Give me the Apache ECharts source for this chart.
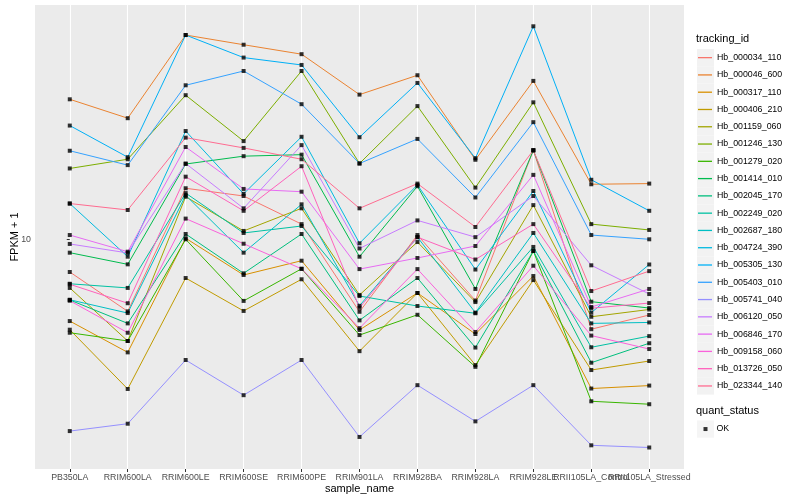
<!DOCTYPE html>
<html>
<head>
<meta charset="utf-8">
<script src="https://cdn.jsdelivr.net/npm/echarts@6/dist/echarts.min.js"></script>
<style>html,body{margin:0;padding:0;background:#fff}#c{width:800px;height:500px}</style>
</head>
<body>
<div id="c"></div>
<script>
// ---- data ----
const sampleNames = ['PB350LA','RRIM600LA','RRIM600LE','RRIM600SE','RRIM600PE','RRIM901LA','RRIM928BA','RRIM928LA','RRIM928LE','RRII105LA_Control','RRII105LA_Stressed'];
const trackingIds = ['Hb_000034_110','Hb_000046_600','Hb_000317_110','Hb_000406_210','Hb_001159_060','Hb_001246_130','Hb_001279_020','Hb_001414_010','Hb_002045_170','Hb_002249_020','Hb_002687_180','Hb_004724_390','Hb_005305_130','Hb_005403_010','Hb_005741_040','Hb_006120_050','Hb_006846_170','Hb_009158_060','Hb_013726_050','Hb_023344_140'];
const yTickValues = [10];
const quantStatus = ['OK'];

const v_000034_110 = [7.40, 5.15, 16.0, 14.9, 11.5, 5.13, 10.4, 5.69, 22.7, 4.37, 4.98];
const v_000046_600 = [36.3, 30.5, 65.6, 60.0, 55.0, 37.9, 45.3, 20.8, 43.0, 16.6, 16.7];
const v_000317_110 = [4.71, 3.53, 10.1, 7.20, 8.21, 4.34, 6.10, 4.18, 7.13, 2.53, 2.60];
const v_000406_210 = [4.35, 2.52, 7.00, 5.17, 6.92, 3.57, 6.10, 3.14, 6.87, 3.00, 3.26];
const v_001159_060 = [6.39, 3.92, 14.8, 10.8, 13.3, 5.99, 9.75, 5.61, 13.7, 4.90, 5.24];
const v_001246_130 = [19.2, 20.9, 37.7, 24.7, 47.1, 20.1, 34.1, 16.1, 35.3, 11.5, 10.9];
const v_001279_020 = [4.23, 3.92, 10.0, 5.67, 7.62, 4.14, 4.99, 3.09, 8.98, 2.25, 2.19];
const v_001414_010 = [8.84, 7.94, 20.0, 21.5, 21.8, 8.52, 16.3, 6.33, 22.7, 5.63, 5.31];
const v_002045_170 = [5.72, 4.61, 10.5, 7.31, 10.5, 4.74, 7.00, 3.69, 8.98, 3.21, 3.84];
const v_002249_020 = [6.64, 6.39, 15.3, 10.6, 11.3, 5.93, 5.41, 5.06, 9.32, 3.70, 4.10];
const v_002687_180 = [5.73, 5.07, 15.0, 8.84, 13.8, 5.42, 10.2, 5.09, 10.6, 4.61, 4.65];
const v_004724_390 = [13.9, 8.52, 27.1, 15.2, 25.7, 9.64, 16.5, 7.57, 15.6, 5.09, 7.93];
const v_005305_130 = [28.5, 21.3, 65.6, 53.3, 49.8, 25.6, 42.2, 21.1, 71.1, 17.3, 13.0];
const v_005403_010 = [22.6, 19.8, 41.3, 47.1, 34.7, 20.1, 25.2, 14.7, 29.4, 10.4, 10.0];
const v_005741_040 = [1.71, 1.83, 3.29, 2.38, 3.29, 1.62, 2.61, 1.87, 2.61, 1.50, 1.47];
const v_006120_050 = [9.58, 8.82, 20.1, 13.3, 23.8, 9.19, 11.9, 10.2, 14.9, 7.87, 6.04];
const v_006846_170 = [10.4, 8.92, 23.4, 15.9, 15.5, 7.60, 8.42, 9.40, 18.1, 5.36, 6.33];
const v_009158_060 = [5.68, 4.23, 12.1, 9.60, 7.62, 4.41, 7.60, 4.26, 7.84, 4.12, 3.64];
const v_013726_050 = [6.61, 5.55, 17.8, 13.0, 19.6, 5.32, 10.2, 8.30, 11.5, 5.30, 5.56];
const v_023344_140 = [13.9, 13.1, 25.5, 23.2, 20.9, 13.3, 16.7, 11.2, 22.7, 6.21, 7.46];

const seriesValues = [v_000034_110, v_000046_600, v_000317_110, v_000406_210, v_001159_060, v_001246_130, v_001279_020, v_001414_010, v_002045_170, v_002249_020, v_002687_180, v_004724_390, v_005305_130, v_005403_010, v_005741_040, v_006120_050, v_006846_170, v_009158_060, v_013726_050, v_023344_140];

// ---- styles ----
const palette = ['#F8766D','#EA8331','#D89000','#C09B00','#A3A500','#7CAE00','#39B600','#00BB4E','#00BF7D','#00C1A3','#00BFC4','#00BAE0','#00B0F6','#35A2FF','#9590FF','#C77CFF','#E76BF3','#FA62DB','#FF62BC','#FF6C91'];
const FONT = 'Liberation Sans, Arial, Helvetica, sans-serif';
const idx = sampleNames.map((_, i) => i);
// labels split over two axes so that overlapping neighbours are both drawn
const idxA = idx.filter(i => i % 2 === 0);
const idxB = idx.filter(i => i % 2 === 1);

const series = trackingIds.map((id, k) => ({
  type: 'line', name: id,
  data: seriesValues[k].map((v, i) => [i, v]),
  symbol: 'none', showSymbol: false,
  lineStyle: { width: 1, color: palette[k] },
  itemStyle: { color: palette[k] },
  z: 2, silent: true
}));
const allPoints = [];
seriesValues.forEach(arr => arr.forEach((v, i) => allPoints.push([i, v])));
series.push({
  type: 'scatter', name: quantStatus[0], data: allPoints,
  symbol: 'rect', symbolSize: 4,
  itemStyle: { color: '#000' }, z: 3, silent: true
});

const labelStyle = { color: '#4D4D4D', fontSize: 8.8, margin: 4, fontFamily: FONT, hideOverlap: false, showMinLabel: true, showMaxLabel: true,
  formatter: v => sampleNames[Math.round(v)] };

const chart = echarts.init(document.getElementById('c'));
chart.setOption({
  animation: false,
  textStyle: { fontFamily: FONT },
  title: [
    { text: 'tracking_id', left: 696, top: 33, padding: 0, textStyle: { fontSize: 11, fontWeight: 'normal', color: '#000', fontFamily: FONT } },
    { text: 'quant_status', left: 696, top: 405, padding: 0, textStyle: { fontSize: 11, fontWeight: 'normal', color: '#000', fontFamily: FONT } }
  ],
  grid: { left: 35, right: 116, top: 5, bottom: 31, show: true, backgroundColor: '#EBEBEB', borderWidth: 0, containLabel: false, outerBoundsMode: 'none' },
  xAxis: [{
    type: 'value', min: -0.6, max: 10.6, position: 'bottom', offset: 0,
    axisLine: { show: false },
    axisTick: { show: true, length: 3, customValues: idx, lineStyle: { color: '#333', width: 1 } },
    axisLabel: Object.assign({ customValues: idxA }, labelStyle),
    splitLine: { show: true, lineStyle: { color: '#fff', width: 1.1 } },
    name: 'sample_name', nameLocation: 'middle', nameGap: 14, nameMoveOverlap: false,
    nameTextStyle: { fontSize: 11, color: '#000', fontFamily: FONT }
  }, {
    type: 'value', min: -0.6, max: 10.6, position: 'bottom', offset: 0,
    axisLine: { show: false },
    axisTick: { show: false, customValues: idxB },
    axisLabel: Object.assign({ customValues: idxB }, labelStyle),
    splitLine: { show: false }
  }],
  yAxis: {
    type: 'log', logBase: 10, min: 1.206, max: 86.5,
    axisLine: { show: false },
    axisTick: { show: true, length: 3, customValues: yTickValues, lineStyle: { color: '#333', width: 1 } },
    axisLabel: { customValues: yTickValues, formatter: v => String(v), color: '#4D4D4D', fontSize: 8.8, margin: 4, fontFamily: FONT },
    splitLine: { show: true, showMinLine: false, showMaxLine: false, lineStyle: { color: '#fff', width: 1.1 } },
    minorSplitLine: { show: false },
    name: 'FPKM + 1', nameLocation: 'middle', nameRotate: 90, nameGap: 15, nameMoveOverlap: false,
    nameTextStyle: { fontSize: 11, color: '#000', fontFamily: FONT }
  },
  legend: [
    { data: trackingIds, orient: 'vertical', left: 697, top: 49, padding: 0, itemGap: 0,
      icon: 'rect', itemWidth: 17, itemHeight: 17.28, selectedMode: false, z: 4,
      itemStyle: { color: '#F2F2F2', borderWidth: 0 },
      textStyle: { color: 'rgba(0,0,0,0)', fontSize: 8.8, lineHeight: 17.28 } },
    { data: trackingIds, orient: 'vertical', left: 698, top: 49, padding: 0, itemGap: 0,
      icon: 'rect', itemWidth: 14, itemHeight: 1.3, selectedMode: false, z: 5,
      textStyle: { color: '#000', fontSize: 8.8, lineHeight: 17.28, fontFamily: FONT } },
    { data: quantStatus, orient: 'vertical', left: 697, top: 420.4, padding: 0, itemGap: 0,
      icon: 'rect', itemWidth: 17, itemHeight: 17.28, selectedMode: false, z: 4,
      itemStyle: { color: '#F2F2F2', borderWidth: 0 },
      textStyle: { color: 'rgba(0,0,0,0)', fontSize: 8.8, lineHeight: 17.28 } },
    { data: quantStatus, orient: 'vertical', left: 703.5, top: 420.4, padding: 0, itemGap: 0,
      icon: 'rect', itemWidth: 4, itemHeight: 4, selectedMode: false, z: 5,
      itemStyle: { color: '#000' },
      textStyle: { color: '#000', fontSize: 8.8, lineHeight: 17.28, padding: [0, 0, 0, 4], fontFamily: FONT } }
  ],
  series: series
});
</script>
</body>
</html>
